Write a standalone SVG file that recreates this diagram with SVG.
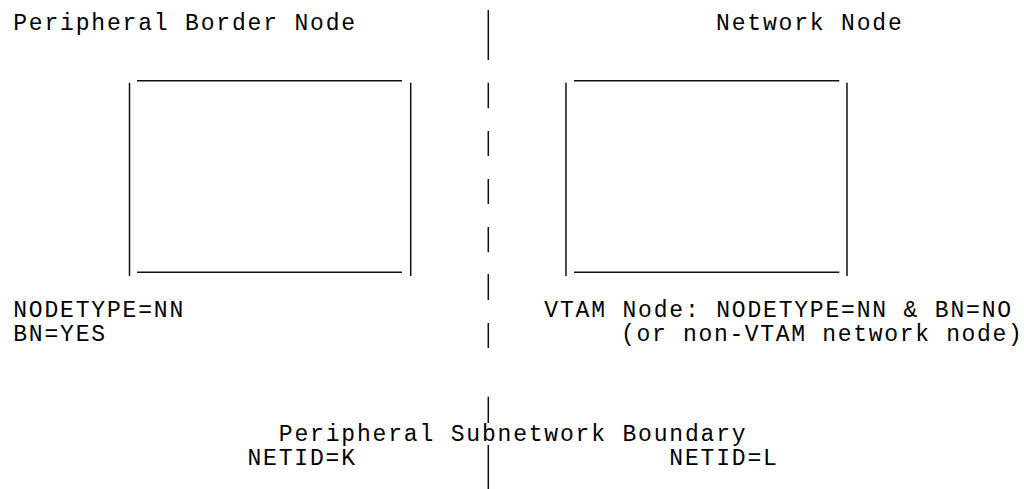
<svg xmlns="http://www.w3.org/2000/svg" width="1024" height="489" viewBox="0 0 1024 489">
<style>
text{font-family:"Liberation Mono","Courier New",monospace;font-size:23px;letter-spacing:1.82px;fill:#000;}
.ln{stroke:#111;stroke-width:1.5;fill:none;}
</style>
<rect width="1024" height="489" fill="#fff"/>
<g id="boundary">
<path class="ln" d="M488.3,10V60M488.3,82.7V108.3M488.3,131V156M488.3,179V204M488.3,227V252.3M488.3,274V300M488.3,323V348M488.3,396.7V423M488.3,445V489"/>
</g>
<g id="peripheral-border-node">
<text x="13.2" y="30">Peripheral Border Node</text>
<path class="ln" d="M137,80.7H402M137,272.3H402M129.5,82.7V276M410.7,82.7V276"/>
<text x="13.2" y="317">NODETYPE=NN</text>
<text x="13.2" y="341">BN=YES</text>
</g>
<g id="network-node">
<text x="716.1" y="30">Network Node</text>
<path class="ln" d="M574,80.7H839.3M574,272.3H839.3M566,82.7V276M847,82.7V276"/>
<text x="544.3" y="317">VTAM Node: NODETYPE=NN &amp; BN=NO</text>
<text x="621" y="341" style="letter-spacing:1.68px">(or non-VTAM network node)</text>
</g>
<g id="subnetwork-boundary">
<text x="278.8" y="441">Peripheral Subnetwork Boundary</text>
<text x="247.5" y="465">NETID=K</text>
<text x="669.3" y="465">NETID=L</text>
</g>
</svg>
